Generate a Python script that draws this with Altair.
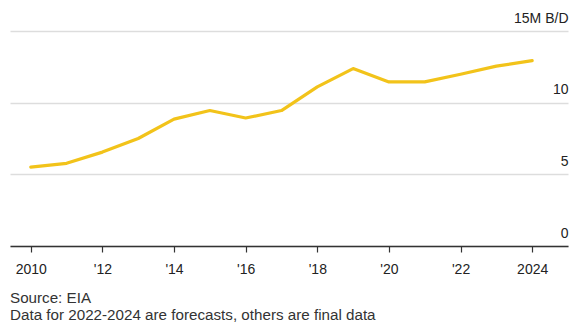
import altair as alt
import pandas as pd

years = [2010, 2011, 2012, 2013, 2014, 2015, 2016, 2017, 2018, 2019, 2020, 2021, 2022, 2023, 2024]
output_mbd = [5.5, 5.77, 6.55, 7.5, 8.85, 9.45, 8.93, 9.45, 11.1, 12.38, 11.45, 11.45, 11.98, 12.55, 12.93]
x_ticks = [2010, 2012, 2014, 2016, 2018, 2020, 2022, 2024]
y_ticks = [0, 5, 10, 15]
notes = ["Source: EIA", "Data for 2022-2024 are forecasts, others are final data"]

df = pd.DataFrame({"year": years, "value": output_mbd})

FONT = "Liberation Sans"

chart = alt.Chart(df).mark_line(color="#f2c31a", strokeWidth=3.2, strokeCap="round", strokeJoin="round").encode(
    x=alt.X("year:Q",
            scale=alt.Scale(domain=[2009.42, 2025], nice=False, zero=False),
            axis=alt.Axis(values=x_ticks, title=None, grid=False,
                          labelExpr="datum.value == 2010 || datum.value == 2024 ? datum.value : \"'\" + substring(toString(datum.value), 2, 4)",
                          domainColor="#333333", domainWidth=1.5,
                          tickColor="#333333", tickWidth=1.2, tickSize=6,
                          labelColor="#222222", labelFont=FONT, labelFontSize=14,
                          labelPadding=10, labelFlush=False)),
    y=alt.Y("value:Q",
            scale=alt.Scale(domain=[0, 15], nice=False),
            axis=alt.Axis(values=y_ticks, orient="right", title=None,
                          labelExpr="datum.value == 15 ? '15M B/D' : datum.value",
                          domain=False, ticks=False,
                          gridColor="#dddddd", gridWidth=1.5,
                          labelAlign="right", labelBaseline="alphabetic",
                          labelPadding=0, labelOffset=-9,
                          labelColor="#222222", labelFont=FONT, labelFontSize=14)),
).properties(
    width=558,
    height=215,
    padding={"left": 10, "right": 10, "top": 31, "bottom": 81},
    autosize=alt.AutoSizeParams(type="none"),
    title=alt.TitleParams(text=notes, orient="bottom", anchor="start", font=FONT,
                          fontSize=15.2, fontWeight="normal", color="#333333",
                          lineHeight=17, offset=15, baseline="top"),
).configure(background="white").configure_view(stroke=None, strokeWidth=0)

chart.save("out.html", embed_options={"renderer": "svg", "actions": False})
